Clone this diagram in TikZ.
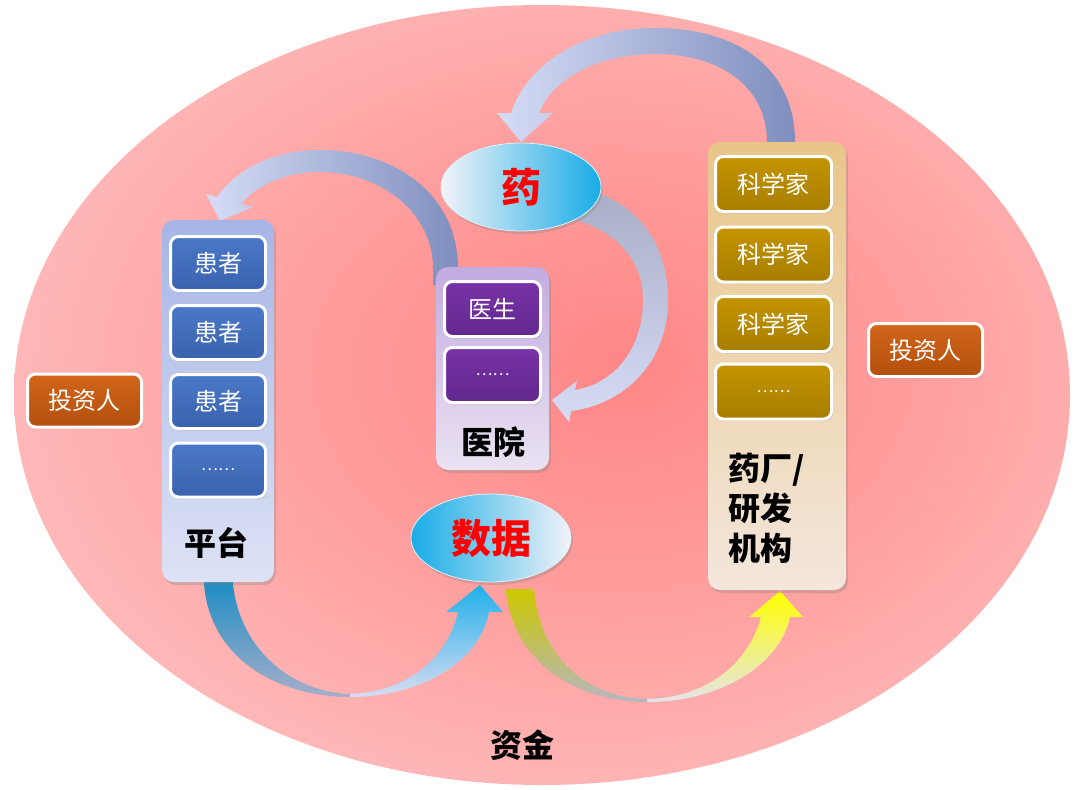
\documentclass[tikz,border=0pt]{standalone}
\usepackage{fontspec}
\setmainfont{Noto Sans CJK SC}
\usetikzlibrary{shadows,shapes.geometric}
\definecolor{bgC}{HTML}{FF8686}
\definecolor{bgM}{HTML}{FFA2A2}
\definecolor{bgE}{HTML}{FFC8C8}
\pgfdeclareradialshading{bgshade}{\pgfpoint{4bp}{2bp}}{color(0bp)=(bgC); color(17bp)=(bgM); color(36bp)=(bgE); color(80bp)=(bgE)}
\definecolor{patTop}{HTML}{4A78C8}
\definecolor{patBot}{HTML}{3A62AE}
\definecolor{purTop}{HTML}{7832A8}
\definecolor{purBot}{HTML}{62288C}
\definecolor{golTop}{HTML}{C49400}
\definecolor{golBot}{HTML}{A67E00}
\definecolor{invTop}{HTML}{D2661A}
\definecolor{invBot}{HTML}{B24F0E}
\definecolor{c1Top}{HTML}{A6B5E6}
\definecolor{c1Bot}{HTML}{DDE2F5}
\definecolor{c2Top}{HTML}{C2ACE0}
\definecolor{c2Bot}{HTML}{EAE2F2}
\definecolor{c3Top}{HTML}{E8C688}
\definecolor{c3Bot}{HTML}{F3E6DC}
\definecolor{aLight}{HTML}{D6DCF6}
\definecolor{aDark}{HTML}{7F8EBE}
\definecolor{aTop}{HTML}{A8AEC6}
\definecolor{a4tail}{HTML}{168CC2}
\definecolor{a4mid}{HTML}{A8AECB}
\definecolor{a4low}{HTML}{D8DCF2}
\definecolor{a4head}{HTML}{20B0EA}
\definecolor{a5tail}{HTML}{CCC800}
\definecolor{a5mid}{HTML}{B6B6C0}
\definecolor{a5low}{HTML}{E4E4EC}
\definecolor{a5head}{HTML}{FFFF00}
\definecolor{cyanE}{HTML}{18ACE6}
\definecolor{whiteE}{HTML}{F2F3F8}
\tikzset{
  cont/.style={rounded corners=12pt, inner sep=0pt,
    drop shadow={opacity=0.3,shadow xshift=2pt,shadow yshift=-3pt}},
  ibox/.style={rounded corners=8pt, draw=white, line width=3pt, inner sep=0pt,
    text=white, font=\fontsize{24}{28}\selectfont,
    drop shadow={opacity=0.3,shadow xshift=1.5pt,shadow yshift=-2pt}},
  pbox/.style={ibox, minimum width=95, minimum height=54, top color=patTop, bottom color=patBot},
  hbox/.style={ibox, minimum width=96, minimum height=55, top color=purTop, bottom color=purBot},
  gbox/.style={ibox, minimum width=116, minimum height=55, top color=golTop, bottom color=golBot},
  invbox/.style={ibox, minimum width=114, minimum height=53, top color=invTop, bottom color=invBot},
  dots/.style={font=\fontsize{16}{18}\selectfont},
  oval/.style={ellipse, minimum width=160, minimum height=88, inner sep=0pt,
    draw=white!85!cyan, line width=0.8pt, text=red,
    font=\fontsize{40}{44}\selectfont\bfseries,
    drop shadow={opacity=0.3,shadow xshift=2pt,shadow yshift=-3pt}},
  lbl/.style={text=black, font=\fontsize{32}{40}\selectfont\bfseries, inner sep=0pt}
}
\begin{document}
\begin{tikzpicture}[x=1pt,y=-1pt]
\useasboundingbox (0,0) rectangle (1080,790);
\fill[white] (0,0) rectangle (1080,790);
\shade[shading=bgshade] (542,395) ellipse [x radius=528, y radius=390];

% arrow: factory -> drug
\shade[left color=aLight, right color=aDark]
  (795,160) -- (795,142) .. controls (795,70) and (740,28) .. (655,28)
  .. controls (585,28) and (528,62) .. (511,113) -- (497,113) -- (521,142) -- (553,113) -- (539,113)
  .. controls (553,78) and (598,54) .. (655,54) .. controls (722,54) and (767,88) .. (767,142)
  -- (767,160) -- cycle;
% arrow: hospital -> platform
\shade[left color=aLight, right color=aDark]
  (458,285) -- (458,268) .. controls (458,195) and (395,150) .. (320,150)
  .. controls (272,150) and (236,170) .. (217,197) -- (206,194) -- (220,221) -- (253,207) -- (241,204)
  .. controls (256,186) and (284,172) .. (320,172) .. controls (380,172) and (433,212) .. (433,268)
  -- (433,285) -- cycle;
% arrow: drug -> hospital
\shade[top color=aTop, middle color=aDark, bottom color=aLight]
  (588,190) .. controls (645,206) and (668,252) .. (668,300)
  .. controls (668,362) and (625,404) .. (571,411) -- (569,422) -- (552,400) -- (577,381) -- (575,390)
  .. controls (613,384) and (643,350) .. (643,300) .. controls (643,262) and (620,232) .. (570,218) -- cycle;
% arrow: platform -> data
\shade[top color=a4tail, bottom color=a4mid]
  (204,575) -- (204,584) .. controls (210,660) and (280,697) .. (350,697) -- (350,694)
  .. controls (292,692) and (240,650) .. (233,584) -- (233,575) -- cycle;
\shade[bottom color=a4low, top color=a4head]
  (350,697) .. controls (420,697) and (480,662) .. (489,612) -- (503,612) -- (480,585) -- (446,612) -- (458,612)
  .. controls (447,660) and (405,692) .. (350,694) -- cycle;
% arrow: data -> factory
\shade[top color=a5tail, bottom color=a5mid]
  (506,589) .. controls (512,665) and (580,702) .. (647,702) -- (647,699)
  .. controls (590,698) and (540,660) .. (534,589) -- cycle;
\shade[bottom color=a5low, top color=a5head]
  (647,702) .. controls (720,702) and (780,665) .. (790,617) -- (803,617) -- (780,591) -- (749,617) -- (761,617)
  .. controls (748,665) and (705,698) .. (647,699) -- cycle;

% containers
\node[cont, minimum width=112, minimum height=362, top color=c1Top, bottom color=c1Bot] (plat) at (218,401) {};
\node[cont, minimum width=113, minimum height=203, top color=c2Top, bottom color=c2Bot] (hosp) at (492.5,368.5) {};
\node[cont, minimum width=138, minimum height=448, top color=c3Top, bottom color=c3Bot] (fact) at (777,366) {};

% patients
\node[pbox] (p1) at (218,263.5) {患者};
\node[pbox] (p2) at (218,332.5) {患者};
\node[pbox] (p3) at (218,401.5) {患者};
\node[pbox, dots] (p4) at (218,470) {……};
\node[lbl] (platlbl) at (216,543) {平台};

% hospital
\node[hbox] (h1) at (492.5,309) {医生};
\node[hbox, dots] (h2) at (492.5,375) {……};
\node[lbl] (hosplbl) at (493,442) {医院};

% factory
\node[gbox] (s1) at (773.5,184) {科学家};
\node[gbox] (s2) at (773.5,254.5) {科学家};
\node[gbox] (s3) at (773.5,324) {科学家};
\node[gbox, dots] (s4) at (773.5,391.5) {……};
\node[lbl, anchor=west, align=left] (factlbl) at (728,508) {药厂/\\研发\\机构};

% investors
\node[invbox] (inv1) at (84.5,400.5) {投资人};
\node[invbox] (inv2) at (925.5,350) {投资人};

% ovals
\node[oval, left color=whiteE, right color=cyanE] (drug) at (521,187) {药};
\node[oval, left color=cyanE, right color=whiteE] (data) at (491,538) {数据};

\node[lbl] (fund) at (522,745) {资金};
\end{tikzpicture}
\end{document}
